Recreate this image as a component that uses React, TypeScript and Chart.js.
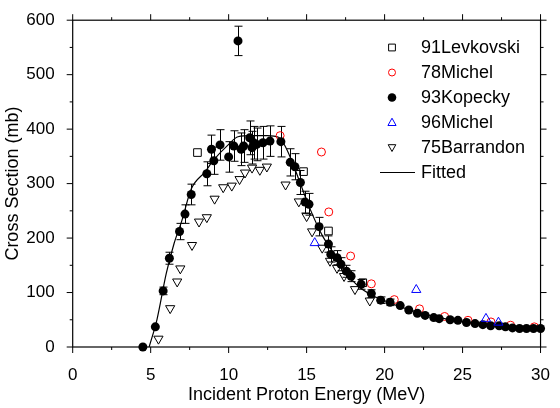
import React, { useEffect, useRef } from 'react';
import { Chart, registerables } from 'chart.js';

Chart.register(...registerables);

// ---------------- data ----------------
const levkovskiE = [8.0, 14.8, 16.4, 18.6];
const levkovskiCS = [357, 322, 213, 118];

const michel78E = [13.3, 15.95, 16.42, 17.82, 19.15, 20.62, 22.24, 23.85, 25.35, 26.82, 28.08, 29.6];
const michel78CS = [388, 358, 248, 167, 116, 87, 70, 56, 49, 46, 40, 37];

const kopeckyE = [
  4.5, 5.3, 5.8, 6.2, 6.85, 7.2, 7.6, 8.6, 8.9, 9.05, 9.45, 10.0, 10.33, 10.6, 10.8,
  10.96, 11.35, 11.5, 11.6, 11.8, 12.2, 12.65, 13.35, 13.95, 14.25, 14.6, 14.9, 15.15,
  15.8, 16.4, 16.55, 16.95, 17.2, 17.55, 17.85, 18.5, 19.15, 19.75, 20.35, 21.0, 21.55,
  22.1, 22.6, 23.15, 23.5, 24.2, 24.7, 25.25, 25.8, 26.3, 26.8, 27.35, 27.75, 28.2,
  28.65, 29.1, 29.55, 30.0,
];
const kopeckyCS = [
  0, 37, 103, 163, 212, 244, 280, 318, 363, 342, 371, 349, 369, 562, 363,
  369, 384, 366, 375, 372, 375, 378, 377, 339, 331, 302, 266, 262,
  221, 189, 170, 164, 152, 139, 130, 115, 98, 86, 82, 76, 68,
  62, 58, 54, 52, 50, 49, 45, 43, 41, 39, 39, 37, 35,
  34, 34, 34, 34,
];
const kopeckyErr = [
  2, 4, 7, 11, 15, 17, 19, 22, 26, 25, 28, 28, 28, 27, 30,
  30, 31, 30, 30, 30, 30, 28, 28, 25, 24, 22, 20, 20,
  17, 15, 14, 13, 12, 11, 10, 9, 7, 6, 6, 5, 5,
  4, 4, 4, 4, 3, 3, 3, 3, 3, 3, 3, 3, 2,
  2, 2, 2, 2,
];

const michel96E = [15.52, 22.03, 26.5, 27.3];
const michel96CS = [191, 105, 52, 45];

const barrandonE = [
  5.5, 6.25, 6.7, 6.9, 7.65, 8.1, 8.6, 9.1, 9.65, 10.2, 10.7, 11.05, 11.5, 12.0, 12.45,
  13.65, 14.5, 15.0, 15.35, 16.0, 16.5, 16.95, 17.4, 18.1, 19.05,
];
const barrandonCS = [
  15, 71, 120, 144, 187, 230, 238, 272, 293, 296, 308, 320, 329, 325, 331,
  298, 267, 240, 212, 182, 158, 145, 130, 106, 85,
];

const fitE = [
  4.9, 5.4, 6.0, 6.5, 7.0, 7.6, 8.5, 9.0, 10.0, 10.6, 11.5, 12.5, 13.2, 13.6, 14.0,
  14.6, 15.2, 16.0, 16.6, 17.3, 18.3, 19.2, 20.0, 21.0, 22.0, 23.5, 25.0, 27.0, 30.0,
];
const fitCS = [
  0, 50, 135, 190, 232, 290, 322, 342, 372, 386, 388, 388, 385, 370, 345,
  300, 255, 205, 178, 145, 112, 95, 85, 74, 65, 54, 47, 40, 34,
];

const xMajorTicks = [0, 5, 10, 15, 20, 25, 30];
const xMinorTicks = [2.5, 7.5, 12.5, 17.5, 22.5, 27.5];
const yMajorTicks = [0, 100, 200, 300, 400, 500, 600];
const yMinorTicks = [50, 150, 250, 350, 450, 550];

const legendLabels = ['91Levkovski', '78Michel', '93Kopecky', '96Michel', '75Barrandon', 'Fitted'];

const FONT = '"Liberation Sans", Arial, Helvetica, sans-serif';

const toPts = (xs: number[], ys: number[]) => xs.map((x, i) => ({ x, y: ys[i] }));

function drawMarker(ctx: CanvasRenderingContext2D, kind: string, x: number, y: number, r: number) {
  ctx.beginPath();
  if (kind === 'square') {
    ctx.rect(x - r, y - r, 2 * r, 2 * r);
    ctx.strokeStyle = '#000';
    ctx.stroke();
  } else if (kind === 'ocircle') {
    ctx.arc(x, y, r, 0, Math.PI * 2);
    ctx.strokeStyle = '#ff0000';
    ctx.stroke();
  } else if (kind === 'fcircle') {
    ctx.arc(x, y, r, 0, Math.PI * 2);
    ctx.fillStyle = '#000';
    ctx.fill();
  } else if (kind === 'up') {
    ctx.moveTo(x, y - r);
    ctx.lineTo(x + r * 0.95, y + r * 0.7);
    ctx.lineTo(x - r * 0.95, y + r * 0.7);
    ctx.closePath();
    ctx.strokeStyle = '#0000ff';
    ctx.stroke();
  } else if (kind === 'down') {
    ctx.moveTo(x, y + r);
    ctx.lineTo(x + r * 0.95, y - r * 0.7);
    ctx.lineTo(x - r * 0.95, y - r * 0.7);
    ctx.closePath();
    ctx.strokeStyle = '#000';
    ctx.stroke();
  }
}

const errorBarPlugin = {
  id: 'errorBars',
  beforeDatasetsDraw(chart: any) {
    const { ctx, scales } = chart;
    const xs = scales.x;
    const ys = scales.y;
    ctx.save();
    ctx.strokeStyle = '#000';
    ctx.lineWidth = 1;
    kopeckyE.forEach((e, i) => {
      const err = kopeckyErr[i];
      if (err < 6) return;
      const px = Math.round(xs.getPixelForValue(e)) + 0.5;
      const top = ys.getPixelForValue(kopeckyCS[i] + err);
      const bot = ys.getPixelForValue(kopeckyCS[i] - err);
      ctx.beginPath();
      ctx.moveTo(px, top);
      ctx.lineTo(px, bot);
      ctx.moveTo(px - 4, top);
      ctx.lineTo(px + 4, top);
      ctx.moveTo(px - 4, bot);
      ctx.lineTo(px + 4, bot);
      ctx.stroke();
    });
    ctx.restore();
  },
};

const framePlugin = {
  id: 'frame',
  afterDraw(chart: any) {
    const { ctx, chartArea, scales } = chart;
    const { left, right, top, bottom } = chartArea;
    const xs = scales.x;
    const ys = scales.y;
    ctx.save();
    ctx.strokeStyle = '#000';
    ctx.lineWidth = 1.2;
    ctx.strokeRect(left, top, right - left, bottom - top);
    ctx.lineWidth = 1;
    ctx.beginPath();
    const major = 6;
    const minor = 3;
    xMajorTicks.forEach((v) => {
      const p = xs.getPixelForValue(v);
      ctx.moveTo(p, bottom); ctx.lineTo(p, bottom + major);
      ctx.moveTo(p, top); ctx.lineTo(p, top - major);
    });
    xMinorTicks.forEach((v) => {
      const p = xs.getPixelForValue(v);
      ctx.moveTo(p, bottom); ctx.lineTo(p, bottom + minor);
      ctx.moveTo(p, top); ctx.lineTo(p, top - minor);
    });
    yMajorTicks.forEach((v) => {
      const p = ys.getPixelForValue(v);
      ctx.moveTo(left, p); ctx.lineTo(left - major, p);
      ctx.moveTo(right, p); ctx.lineTo(right + major, p);
    });
    yMinorTicks.forEach((v) => {
      const p = ys.getPixelForValue(v);
      ctx.moveTo(left, p); ctx.lineTo(left - minor, p);
      ctx.moveTo(right, p); ctx.lineTo(right + minor, p);
    });
    ctx.stroke();

    // legend
    const kinds = ['square', 'ocircle', 'fcircle', 'up', 'down', 'line'];
    const sizes = [3.4, 3.5, 4.3, 4.3, 4.0, 0];
    ctx.font = `18px ${FONT}`;
    ctx.textBaseline = 'middle';
    ctx.textAlign = 'left';
    ctx.fillStyle = '#000';
    legendLabels.forEach((lab, i) => {
      const y = 47.5 + i * 25;
      if (kinds[i] === 'line') {
        ctx.beginPath();
        ctx.strokeStyle = '#000';
        ctx.lineWidth = 1.2;
        ctx.moveTo(380, y);
        ctx.lineTo(415, y);
        ctx.stroke();
      } else {
        ctx.lineWidth = 1;
        drawMarker(ctx, kinds[i], 392, y, sizes[i]);
      }
      ctx.fillStyle = '#000';
      ctx.fillText(lab, 421, y + 1);
    });
    ctx.restore();
  },
};

export default function App() {
  const ref = useRef<HTMLCanvasElement | null>(null);

  useEffect(() => {
    if (!ref.current) return;
    Chart.defaults.font.family = FONT;
    Chart.defaults.color = '#000';
    const chart = new Chart(ref.current, {
      type: 'scatter',
      data: {
        datasets: [
          {
            label: '91Levkovski',
            data: toPts(levkovskiE, levkovskiCS),
            pointStyle: 'rect',
            pointRadius: 5.4,
            backgroundColor: 'rgba(0,0,0,0)',
            borderColor: '#000',
            borderWidth: 1,
            clip: false,
            order: 3,
          },
          {
            label: '78Michel',
            data: toPts(michel78E, michel78CS),
            pointStyle: 'circle',
            pointRadius: 4,
            backgroundColor: 'rgba(0,0,0,0)',
            borderColor: '#ff0000',
            borderWidth: 1,
            clip: false,
            order: 4,
          },
          {
            label: '93Kopecky',
            data: toPts(kopeckyE, kopeckyCS),
            pointStyle: 'circle',
            pointRadius: 4.5,
            backgroundColor: '#000',
            borderColor: '#000',
            borderWidth: 0,
            clip: false,
            order: 2,
          },
          {
            label: '96Michel',
            data: toPts(michel96E, michel96CS),
            pointStyle: 'triangle',
            pointRadius: 5.3,
            backgroundColor: 'rgba(0,0,0,0)',
            borderColor: '#0000ff',
            borderWidth: 1,
            clip: false,
            order: 0,
          },
          {
            label: '75Barrandon',
            data: toPts(barrandonE, barrandonCS),
            pointStyle: 'triangle',
            rotation: 180,
            pointRadius: 5.3,
            backgroundColor: 'rgba(0,0,0,0)',
            borderColor: '#000',
            borderWidth: 1,
            clip: false,
            order: 1,
          },
          {
            label: 'Fitted',
            type: 'line',
            data: toPts(fitE, fitCS),
            showLine: true,
            pointRadius: 0,
            borderColor: '#000',
            borderWidth: 1.2,
            cubicInterpolationMode: 'monotone',
            fill: false,
            order: 5,
          } as any,
        ],
      },
      options: {
        animation: false,
        responsive: false,
        devicePixelRatio: 1,
        layout: { padding: { top: 16, right: 11, left: 0, bottom: 0 } },
        plugins: {
          legend: { display: false },
          tooltip: { enabled: false },
        },
        scales: {
          x: {
            type: 'linear',
            position: 'bottom',
            min: 0,
            max: 30,
            grid: { display: false },
            border: { display: false },
            ticks: {
              stepSize: 5,
              maxRotation: 0,
              padding: 10,
              color: '#000',
              font: { size: 17, family: FONT },
            },
            title: {
              display: true,
              text: 'Incident Proton Energy (MeV)',
              color: '#000',
              font: { size: 18, family: FONT },
              padding: { top: 0, bottom: 2 },
            },
            afterFit: (s: any) => {
              s.height = 61;
            },
          },
          y: {
            type: 'linear',
            position: 'left',
            min: 0,
            max: 600,
            grid: { display: false },
            border: { display: false },
            ticks: {
              stepSize: 100,
              padding: 10,
              color: '#000',
              font: { size: 17, family: FONT },
            },
            title: {
              display: true,
              text: 'Cross Section (mb)',
              color: '#000',
              font: { size: 18, family: FONT },
              padding: { top: 2, bottom: 0 },
            },
            afterFit: (s: any) => {
              s.width = 72.7;
            },
          },
        },
      },
      plugins: [errorBarPlugin, framePlugin],
    });
    return () => chart.destroy();
  }, []);

  return (
    <div style={{ position: 'absolute', left: 0, top: 0, width: 560, height: 408, background: '#fff' }}>
      <canvas ref={ref} width={560} height={408} style={{ display: 'block' }} />
    </div>
  );
}
